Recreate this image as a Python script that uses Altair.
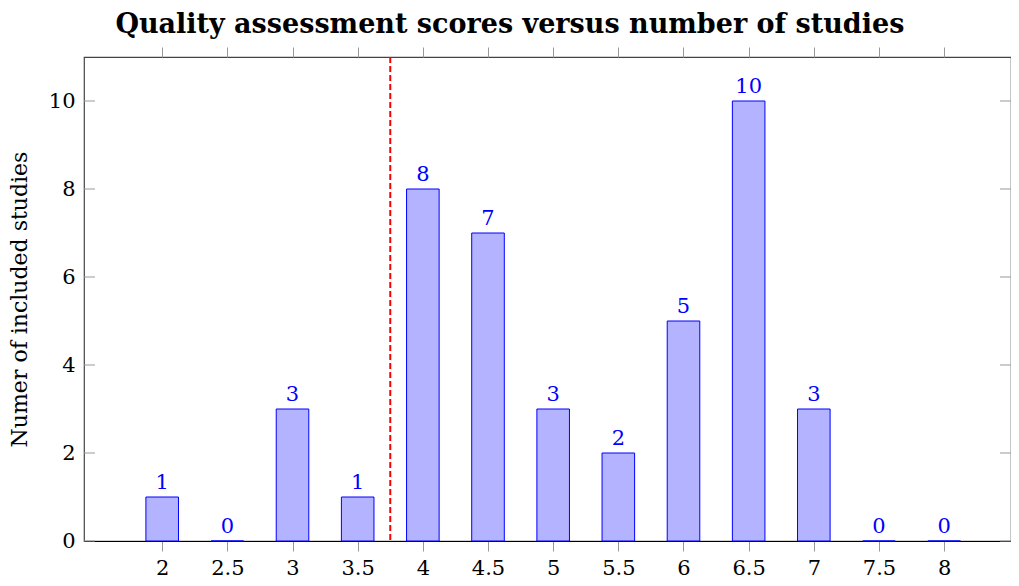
import altair as alt
import pandas as pd

scores = [2, 2.5, 3, 3.5, 4, 4.5, 5, 5.5, 6, 6.5, 7, 7.5, 8]
counts = [1, 0, 3, 1, 8, 7, 3, 2, 5, 10, 3, 0, 0]
threshold = [3.75]
y_ticks = [0, 2, 4, 6, 8, 10]
x_ticks = scores

FONT = "DejaVu Serif"
W, H = 927, 484
XDOM = [1.4, 8.513]
YDOM = [0, 11]

df = pd.DataFrame({"score": scores, "count": counts})
df_thr = pd.DataFrame({"t": threshold})
df_yt = pd.DataFrame({"v": y_ticks})

xs = alt.Scale(domain=XDOM, nice=False, zero=False)
ys = alt.Scale(domain=YDOM, nice=False, zero=False)

base = alt.Chart(df)

bars = base.transform_calculate(
    x0="datum.score - 0.125", x1="datum.score + 0.125"
).mark_bar(fill="#b3b3ff", stroke="#0000ff", strokeWidth=1).encode(
    x=alt.X("x0:Q", scale=xs,
            axis=alt.Axis(orient="bottom", values=x_ticks, format="~g", title=None,
                          grid=False, domain=True, domainColor="#000000", domainWidth=1.2,
                          tickColor="#999999", tickSize=10, tickWidth=1,
                          labelFont=FONT, labelFontSize=21, labelColor="#000000",
                          labelPadding=6, labelFlush=False)),
    x2="x1:Q",
    y=alt.Y("count:Q", scale=ys,
            axis=alt.Axis(orient="left", values=y_ticks, title="Numer of included studies",
                          grid=False, domain=False, ticks=False,
                          labelFont=FONT, labelFontSize=21, labelColor="#000000",
                          labelPadding=9, titleFont=FONT, titleFontSize=22,
                          titleFontWeight="normal", titleColor="#000000", titlePadding=17)),
    y2=alt.datum(0),
)

labels = base.mark_text(font=FONT, fontSize=21, color="#0000ff", baseline="alphabetic",
                        dy=-8).encode(
    x=alt.X("score:Q", scale=xs,
            axis=alt.Axis(orient="top", values=x_ticks, labels=False, title=None,
                          grid=False, domain=False, tickColor="#999999", tickSize=10,
                          tickWidth=1)),
    y=alt.Y("count:Q", scale=ys, axis=None),
    text="count:Q",
)

thr = alt.Chart(df_thr).mark_rule(color="#ff0000", strokeWidth=2, strokeDash=[6, 3]).encode(
    x=alt.X("t:Q", scale=xs, axis=None),
)

lticks = alt.Chart(df_yt).mark_rule(color="#999999", strokeWidth=1).encode(
    y=alt.Y("v:Q", scale=ys, axis=None), x=alt.value(0), x2=alt.value(11)
)
rticks = alt.Chart(df_yt).mark_rule(color="#999999", strokeWidth=1).encode(
    y=alt.Y("v:Q", scale=ys, axis=None), x=alt.value(W - 11), x2=alt.value(W)
)

chart = alt.layer(bars, lticks, rticks, thr, labels).resolve_axis(
    x="independent", y="independent"
).properties(
    width=W, height=H,
    autosize=alt.AutoSizeParams(type="none"),
    padding={"left": 76, "top": 49, "right": 0, "bottom": 38},
    title=alt.TitleParams("Quality assessment scores versus number of studies",
                          font=FONT, fontSize=27, fontWeight="bold", color="#000000",
                          anchor="middle", frame="bounds", offset=4, dx=0, dy=-4),
).configure_view(stroke="#444444", strokeWidth=1.2)

chart.save("out.html", embed_options={"renderer": "svg", "actions": False})
